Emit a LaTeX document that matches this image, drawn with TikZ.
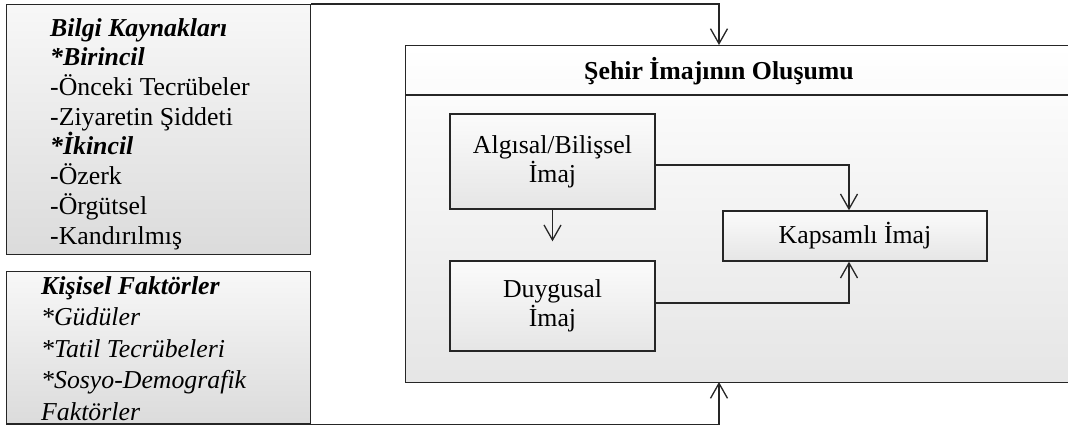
\documentclass[tikz,border=0pt]{standalone}
\usepackage{fontspec}
\setmainfont{Liberation Serif}
\usetikzlibrary{arrows.meta}
\begin{document}
\begin{tikzpicture}[x=1pt,y=-1pt,
  frame/.style={draw=black!85, line width=1.4pt, rectangle, inner sep=0pt},
  srcbox/.style={frame, top color=gray!6, bottom color=gray!28},
  imgbox/.style={frame, top color=gray!3, bottom color=gray!20, align=center,
    font=\fontsize{25.8}{29}\selectfont},
  srctext/.style={anchor=north west, align=left, inner sep=0pt,
    font=\fontsize{25.8}{29.7}\selectfont},
  link/.style={draw=black!85, line width=1.3pt,
    -{Straight Barb[length=15pt,width=17pt,line width=1.3pt]}},
]
\useasboundingbox (0,0) rectangle (1068,428);
\fill[white] (0,0) rectangle (1068,428);
\clip (0,0) rectangle (1068,428);

% information sources
\node[srcbox, minimum width=304, minimum height=250, anchor=north west] (bilgi) at (6,4) {};
\node[srctext] (bilgitxt) at (50,18)
  {\textbf{\textit{Bilgi Kaynakları}}\\
   \textbf{\textit{*Birincil}}\\
   -Önceki Tecrübeler\\
   -Ziyaretin Şiddeti\\
   \textbf{\textit{*İkincil}}\\
   -Özerk\\
   -Örgütsel\\
   -Kandırılmış};

% personal factors (last line runs into the bottom edge)
\node[srcbox, minimum width=304, minimum height=152, anchor=north west] (kisisel) at (6,271) {};
\node[srctext, font=\fontsize{25.8}{31.5}\selectfont\itshape] (kisiseltxt) at (41,276)
  {\textbf{Kişisel Faktörler}\\
   *Güdüler\\
   *Tatil Tecrübeleri\\
   *Sosyo-Demografik\\
   Faktörler};
\draw[black!85, line width=1.4pt] (kisisel.south west) -- (kisisel.south east);

% image formation frame
\node[frame, top color=white, bottom color=gray!20, minimum width=675, minimum height=337,
  anchor=north west] (olusum) at (405,45) {};
\draw[black!85, line width=1.4pt] (405,95) -- (1080,95);
\node[font=\fontsize{25.8}{29}\selectfont\bfseries] (baslik) at (719,71) {Şehir İmajının Oluşumu};

\node[imgbox, minimum width=205, minimum height=95] (bilissel) at (552.5,161.5) {Algısal/Bilişsel\\İmaj};
\node[imgbox, minimum width=205, minimum height=90] (duygusal) at (552.5,306) {Duygusal\\İmaj};
\node[imgbox, minimum width=264, minimum height=50] (kapsamli) at (855,236) {Kapsamlı İmaj};

% connectors
\coordinate (giris) at (719,45);
\coordinate (cikis) at (719,382);
\draw[link] (bilgi.north east) -| (giris);
\draw[link] (kisisel.south east) -| (cikis);
\draw[link, shorten >=19pt] (bilissel.south) -- (duygusal.north);
\draw[link] ([yshift=-3.5pt]bilissel.east) -| ([xshift=-6pt]kapsamli.north);
\draw[link] ([yshift=3pt]duygusal.east) -| ([xshift=-6pt]kapsamli.south);
\end{tikzpicture}
\end{document}
